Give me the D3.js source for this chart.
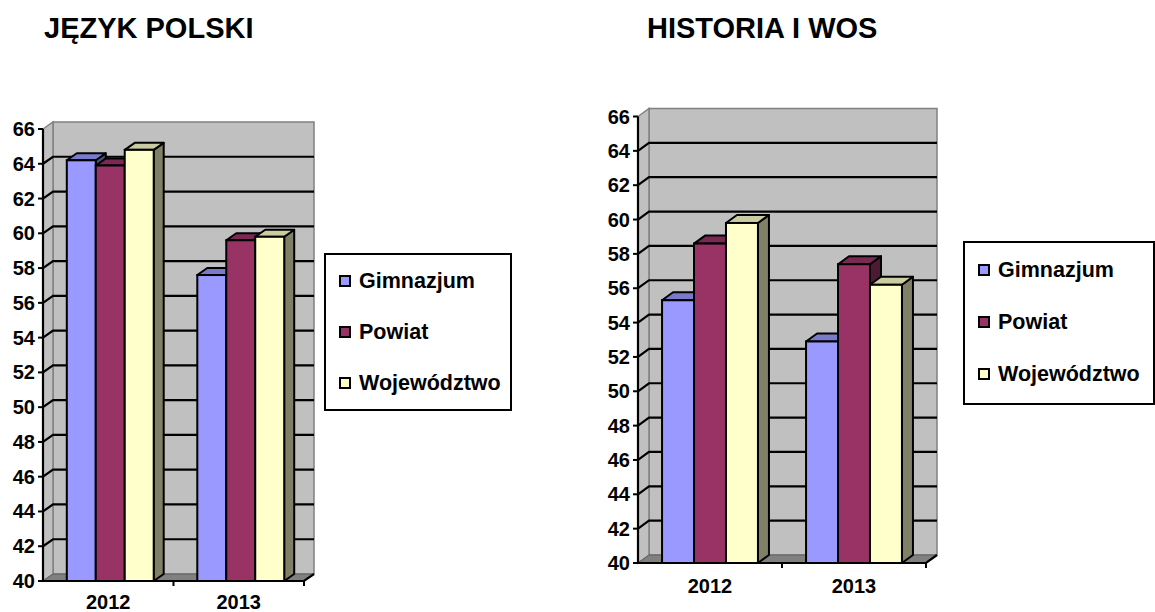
<!DOCTYPE html>
<html>
<head>
<meta charset="utf-8">
<script src="https://cdn.jsdelivr.net/npm/d3@7"></script>
<style>
  body { margin: 0; background: #fff; }
  text { font-family: "Liberation Sans", Arial, sans-serif; font-weight: bold; fill: #000; }
</style>
</head>
<body>
<script>
// data
const categories = ["2012", "2013"];
const series = ["Gimnazjum", "Powiat", "Województwo"];
const colors = ["#9999FF", "#993366", "#FFFFCC"];
const yTicks = [40, 42, 44, 46, 48, 50, 52, 54, 56, 58, 60, 62, 64, 66];
const polskiValues = [[64.2, 63.9, 64.8], [57.6, 59.6, 59.8]];
const historiaValues = [[55.3, 58.6, 59.8], [52.9, 57.4, 56.2]];

const svg = d3.select("body").append("svg")
    .attr("width", 1155)
    .attr("height", 612);

function shade(c, k) {
    var r = d3.rgb(c);
    return d3.rgb(r.r * k, r.g * k, r.b * k).formatHex();
}

function drawChart(cfg) {
    var g = svg.append("g");
    var x0 = cfg.x0, x1 = cfg.x1, dx = cfg.dx, dy = cfg.dy;

    var y = d3.scaleLinear().domain([40, 66]).range([cfg.yBottom, cfg.yTop]);
    var xCat = d3.scaleBand().domain(categories).range([x0, x1]);
    var bw = xCat.bandwidth() * 0.222;
    var xSer = d3.scaleBand().domain(series).range([0, bw * 3]);
    var y0 = y(40), yt = y(66);

    // title
    g.append("text").attr("x", cfg.titleX).attr("y", 38)
        .style("font-size", "29px").text(cfg.title);

    // back wall + left wall
    g.append("path")
        .attr("d", `M${x0 + dx},${yt + dy}L${x1 + dx},${yt + dy}L${x1 + dx},${y0 + dy}L${x0 + dx},${y0 + dy}Z`)
        .attr("fill", "#C0C0C0").attr("stroke", "#808080").attr("stroke-width", 1.5);
    g.append("path")
        .attr("d", `M${x0},${yt}L${x0 + dx},${yt + dy}L${x0 + dx},${y0 + dy}L${x0},${y0}Z`)
        .attr("fill", "#C0C0C0").attr("stroke", "#808080").attr("stroke-width", 1.5);
    // floor
    g.append("path")
        .attr("d", `M${x0},${y0}L${x1},${y0}L${x1 + dx},${y0 + dy}L${x0 + dx},${y0 + dy}Z`)
        .attr("fill", "#808080").attr("stroke", "#606060").attr("stroke-width", 1);

    // gridlines on both walls
    var inner = yTicks.filter(function(t) { return t > 40 && t < 66; });
    g.selectAll(".grid").data(inner).enter().append("path")
        .attr("d", function(t) {
            return `M${x0},${y(t)}L${x0 + dx},${y(t) + dy}L${x1 + dx},${y(t) + dy}`;
        })
        .attr("fill", "none").attr("stroke", "#000").attr("stroke-width", 2.2);

    // axis, ticks, labels
    g.append("line").attr("x1", x0).attr("x2", x0).attr("y1", y0).attr("y2", yt)
        .attr("stroke", "#000").attr("stroke-width", 2.2);
    g.selectAll(".ytick").data(yTicks).enter().append("line")
        .attr("x1", x0 - 5).attr("x2", x0).attr("y1", function(t) { return y(t); }).attr("y2", function(t) { return y(t); })
        .attr("stroke", "#000").attr("stroke-width", 2);
    g.selectAll(".ylab").data(yTicks).enter().append("text")
        .attr("x", x0 - 8).attr("y", function(t) { return y(t); })
        .attr("text-anchor", "end").attr("dominant-baseline", "central")
        .style("font-size", "20px")
        .text(function(t) { return t; });

    // floor front edge + category ticks
    g.append("path")
        .attr("d", `M${x0},${y0}L${x1},${y0}L${x1 + dx},${y0 + dy}`)
        .attr("fill", "none").attr("stroke", "#000").attr("stroke-width", 2.2);
    var bounds = [x0 + xCat.bandwidth(), x1];
    g.selectAll(".xtick").data(bounds).enter().append("line")
        .attr("x1", function(d) { return d; }).attr("x2", function(d) { return d; })
        .attr("y1", y0).attr("y2", y0 + 5)
        .attr("stroke", "#000").attr("stroke-width", 2);
    g.selectAll(".xlab").data(categories).enter().append("text")
        .attr("x", function(c) { return xCat(c) + xCat.bandwidth() / 2; })
        .attr("y", Math.min(y0 + 30, 609))
        .attr("text-anchor", "middle")
        .style("font-size", "20px")
        .text(function(c) { return c; });

    // 3d bars
    categories.forEach(function(c, ci) {
        var gx = xCat(c) + (xCat.bandwidth() - bw * 3) / 2 + cfg.shift;
        series.forEach(function(s, si) {
            var v = cfg.values[ci][si];
            var xl = gx + xSer(s), xr = xl + xSer.bandwidth(), ytop = y(v);
            var col = colors[si];
            var b = g.append("g");
            b.append("path")
                .attr("d", `M${xr},${ytop}L${xr + dx},${ytop + dy}L${xr + dx},${y0 + dy}L${xr},${y0}Z`)
                .attr("fill", shade(col, 0.5)).attr("stroke", "#000").attr("stroke-width", 2).attr("stroke-linejoin", "round");
            b.append("path")
                .attr("d", `M${xl},${ytop}L${xl + dx},${ytop + dy}L${xr + dx},${ytop + dy}L${xr},${ytop}Z`)
                .attr("fill", shade(col, 0.8)).attr("stroke", "#000").attr("stroke-width", 2).attr("stroke-linejoin", "round");
            b.append("rect")
                .attr("x", xl).attr("y", ytop).attr("width", xr - xl).attr("height", y0 - ytop)
                .attr("fill", col).attr("stroke", "#000").attr("stroke-width", 2);
        });
    });

    // legend
    var lg = g.append("g");
    lg.append("rect").attr("x", cfg.leg.x).attr("y", cfg.leg.y)
        .attr("width", cfg.leg.w).attr("height", cfg.leg.h)
        .attr("fill", "#fff").attr("stroke", "#000").attr("stroke-width", 2);
    series.forEach(function(s, si) {
        var cy = cfg.leg.y + cfg.leg.first + si * cfg.leg.step;
        lg.append("rect").attr("x", cfg.leg.x + 15).attr("y", cy - 5)
            .attr("width", 10).attr("height", 10)
            .attr("fill", colors[si]).attr("stroke", "#000").attr("stroke-width", 2);
        lg.append("text").attr("x", cfg.leg.x + 34).attr("y", cy)
            .attr("dominant-baseline", "central")
            .style("font-size", "21.5px")
            .text(s);
    });
}

drawChart({
    title: "JĘZYK POLSKI", titleX: 44,
    values: polskiValues,
    x0: 43, x1: 304, yBottom: 581, yTop: 129, dx: 10, dy: -7, shift: 2,
    leg: {x: 325, y: 254, w: 186, h: 156, first: 27, step: 51}
});

drawChart({
    title: "HISTORIA I WOS", titleX: 647,
    values: historiaValues,
    x0: 638, x1: 926, yBottom: 563, yTop: 116.5, dx: 11, dy: -8, shift: 0,
    leg: {x: 964, y: 242, w: 190, h: 162, first: 28, step: 52}
});
</script>
</body>
</html>
